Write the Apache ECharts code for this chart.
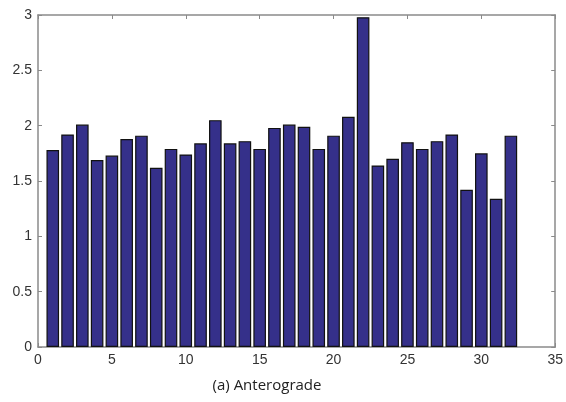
<!DOCTYPE html>
<html><head><meta charset="utf-8">
<script src="https://cdn.jsdelivr.net/npm/echarts@6/dist/echarts.min.js"></script>
<style>html,body{margin:0;padding:0;background:#fff}#c{width:566px;height:402px}</style>
</head><body><div id="c"></div>
<script>
const positions = [1,2,3,4,5,6,7,8,9,10,11,12,13,14,15,16,17,18,19,20,21,22,23,24,25,26,27,28,29,30,31,32];
const values = [1.78,1.92,2.01,1.69,1.73,1.88,1.91,1.62,1.79,1.74,1.84,2.05,1.84,1.86,1.79,1.98,2.01,1.99,1.79,1.91,2.08,2.98,1.64,1.70,1.85,1.79,1.86,1.92,1.42,1.75,1.34,1.91];
const xTicks = [0,5,10,15,20,25,30,35];
const yTicks = [0,0.5,1,1.5,2,2.5,3];
const caption = '(a) Anterograde';

const chart = echarts.init(document.getElementById('c'), null, {renderer:'canvas'});
const axisCol = '#8a8a8a';
const lab = {color:'#333', fontFamily:'Liberation Sans, Arial, sans-serif', fontSize:14};
const baseX = {type:'value', min:xTicks[0], max:xTicks[xTicks.length-1], interval:5,
  axisLine:{show:true,onZero:false,lineStyle:{color:axisCol,width:1.5}},
  axisTick:{show:true,inside:true,length:4,lineStyle:{color:axisCol}},
  splitLine:{show:false}};
const baseY = {type:'value', min:yTicks[0], max:yTicks[yTicks.length-1], interval:0.5,
  axisLine:{show:true,onZero:false,lineStyle:{color:axisCol,width:1.5}},
  axisTick:{show:true,inside:true,length:4,lineStyle:{color:axisCol}},
  splitLine:{show:false}};
chart.setOption({
  animation:false,
  grid:{left:38,right:10,top:15,bottom:55,containLabel:false},
  xAxis:[
    Object.assign({}, baseX, {position:'bottom', axisLabel:Object.assign({margin:6}, lab)}),
    Object.assign({}, baseX, {position:'top', axisLabel:{show:false}})
  ],
  yAxis:[
    Object.assign({}, baseY, {position:'left', axisLabel:Object.assign({margin:6}, lab)}),
    Object.assign({}, baseY, {position:'right', axisLabel:{show:false}})
  ],
  title:{text:caption, left:262, top:373, textAlign:'center',
    textStyle:{fontFamily:'Open Sans, sans-serif', fontSize:15, fontWeight:'normal', color:'#222'}},
  series:[{
    type:'bar', xAxisIndex:0, yAxisIndex:0,
    barWidth:12.6,
    data: positions.map((p,i)=>[p, values[i]]),
    itemStyle:{color:'#35308a', borderColor:'#111', borderWidth:1.2}
  }]
});
</script></body></html>
